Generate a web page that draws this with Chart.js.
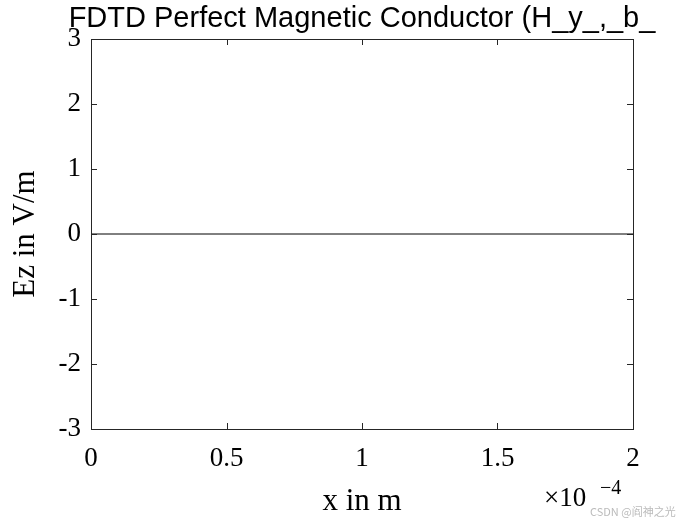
<!DOCTYPE html>
<html>
<head>
<meta charset="utf-8">
<script src="https://cdn.jsdelivr.net/npm/chart.js@4"></script>
<style>body{margin:0;background:#fff}#wrap{width:700px;height:525px}</style>
</head>
<body>
<div id="wrap"><canvas id="c"></canvas></div>
<script>
// data
const xValues = [0, 2e-4];
const ezValues = [0, 0];
const xTicks = [0, 0.5e-4, 1e-4, 1.5e-4, 2e-4];
const xTickLabels = ['0', '0.5', '1', '1.5', '2'];
const yTicks = [-3, -2, -1, 0, 1, 2, 3];

const serif = '"Liberation Serif", "DejaVu Serif", serif';

// box, inward ticks, titles
const decor = {
  id: 'decor',
  afterDraw(chart) {
    const { ctx, chartArea: a, scales: { x, y } } = chart;
    ctx.save();
    ctx.strokeStyle = '#262626';
    ctx.lineWidth = 1;
    ctx.strokeRect(a.left + 0.5, a.top + 0.5, a.right - a.left, a.bottom - a.top);
    ctx.beginPath();
    xTicks.forEach(v => {
      const px = Math.round(x.getPixelForValue(v)) + 0.5;
      ctx.moveTo(px, a.bottom); ctx.lineTo(px, a.bottom - 6);
      ctx.moveTo(px, a.top); ctx.lineTo(px, a.top + 6);
    });
    yTicks.forEach(v => {
      const py = Math.round(y.getPixelForValue(v)) + 0.5;
      ctx.moveTo(a.left, py); ctx.lineTo(a.left + 6, py);
      ctx.moveTo(a.right, py); ctx.lineTo(a.right - 6, py);
    });
    ctx.stroke();

    ctx.fillStyle = '#000';
    ctx.textAlign = 'center';
    ctx.textBaseline = 'alphabetic';
    ctx.font = '29px "Liberation Sans", Arial, sans-serif';
    ctx.fillText('FDTD Perfect Magnetic Conductor (H_y_,_b_', 362, 27);

    ctx.font = '31px ' + serif;
    ctx.fillText('x in m', 362, 510);
    ctx.save();
    ctx.translate(34, 234);
    ctx.rotate(-Math.PI / 2);
    ctx.fillText('Ez in V/m', 0, 0);
    ctx.restore();

    ctx.textAlign = 'left';
    ctx.font = '27px ' + serif;
    ctx.fillText('\u00d710', 544, 506);
    ctx.font = '20px ' + serif;
    ctx.fillText('\u22124', 600, 494);

    ctx.font = '11px "Noto Sans CJK SC", sans-serif';
    ctx.fillStyle = '#bbb';
    ctx.fillText('CSDN @阎神之光', 590, 516);
    ctx.restore();
  }
};

new Chart(document.getElementById('c'), {
  type: 'line',
  data: {
    datasets: [{
      data: xValues.map((v, i) => ({ x: v, y: ezValues[i] })),
      borderColor: '#000',
      borderWidth: 1,
      pointRadius: 0
    }]
  },
  options: {
    responsive: true,
    maintainAspectRatio: false,
    animation: false,
    layout: { padding: { top: 39, right: 67, left: 0, bottom: 0 } },
    plugins: { legend: { display: false }, tooltip: { enabled: false } },
    scales: {
      x: {
        type: 'linear', min: 0, max: 2e-4,
        afterFit: s => { s.height = 96; },
        afterBuildTicks: s => { s.ticks = xTicks.map(v => ({ value: v })); },
        grid: { display: false, drawTicks: false },
        border: { display: false },
        ticks: {
          color: '#000', padding: 14, maxRotation: 0,
          font: { family: serif, size: 27 },
          callback: (v) => xTickLabels[xTicks.findIndex(t => Math.abs(t - v) < 1e-9)]
        }
      },
      y: {
        type: 'linear', min: -3, max: 3,
        afterFit: s => { s.width = 91; },
        afterBuildTicks: s => { s.ticks = yTicks.map(v => ({ value: v })); },
        grid: { display: false, drawTicks: false },
        border: { display: false },
        ticks: {
          color: '#000', padding: 10,
          font: { family: serif, size: 27 },
          callback: v => v < 0 ? '-' + Math.abs(v) : String(v)
        }
      }
    }
  },
  plugins: [decor]
});
</script>
</body>
</html>
